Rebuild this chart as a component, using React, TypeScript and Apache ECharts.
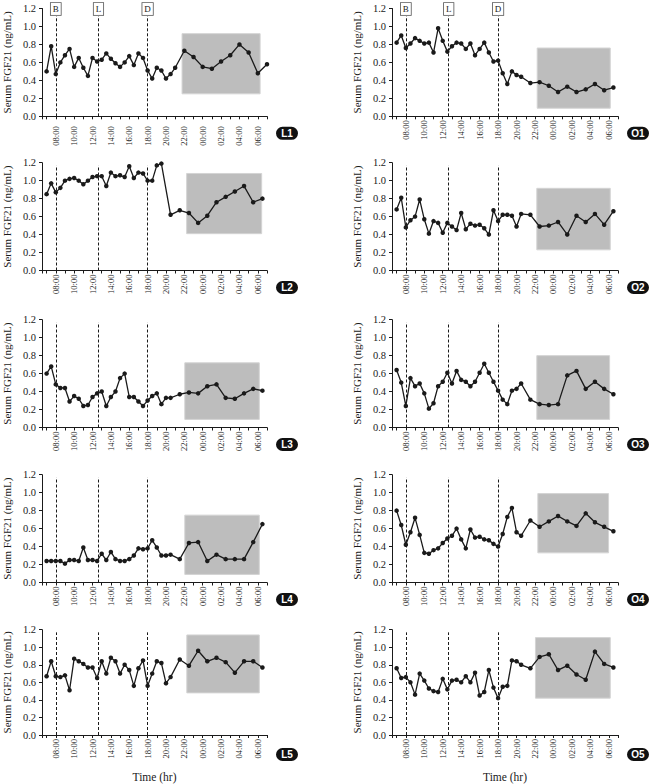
import React, { useEffect, useRef } from "react";
import * as echarts from "echarts";

// ---- time grids (clock times of the samples) ----
const DAY_TIMES = [
  "07:00", "07:30", "08:00", "08:30", "09:00", "09:30", "10:00", "10:30",
  "11:00", "11:30", "12:00", "12:30", "13:00", "13:30", "14:00", "14:30",
  "15:00", "15:30", "16:00", "16:30", "17:00", "17:30", "18:00", "18:30",
  "19:00", "19:30", "20:00", "20:30", "21:00",
];
const NIGHT_ON_HOUR = ["22:00", "23:00", "00:00", "01:00", "02:00", "03:00", "04:00", "05:00", "06:00", "07:00"];
const NIGHT_HALF = ["20:30", "21:30", "22:30", "23:30", "00:30", "01:30", "02:30", "03:30", "04:30", "05:30", "06:30"];

const TIMES_L1 = [...DAY_TIMES, ...NIGHT_ON_HOUR];
const TIMES_L2 = [...DAY_TIMES.slice(0, 26), ...NIGHT_HALF];
const TIMES_STD = [...DAY_TIMES.slice(0, 28), ...NIGHT_HALF.slice(1)];

// ---- serum FGF21 values (ng/mL) ----
const L1_VALUES = [0.50, 0.78, 0.47, 0.60, 0.68, 0.75, 0.55, 0.65, 0.54, 0.45, 0.65, 0.61, 0.63, 0.70, 0.64, 0.59, 0.55, 0.60, 0.67, 0.57, 0.70, 0.65, 0.51, 0.42, 0.54, 0.51, 0.42, 0.47, 0.54, 0.73, 0.66, 0.55, 0.53, 0.61, 0.68, 0.80, 0.71, 0.48, 0.58];
const L2_VALUES = [0.85, 0.97, 0.87, 0.92, 1.00, 1.02, 1.03, 1.00, 0.96, 1.00, 1.04, 1.05, 1.05, 0.94, 1.09, 1.05, 1.06, 1.04, 1.16, 1.03, 1.09, 1.08, 1.00, 1.00, 1.17, 1.19, 0.62, 0.67, 0.64, 0.53, 0.61, 0.76, 0.82, 0.88, 0.94, 0.76, 0.80];
const L3_VALUES = [0.60, 0.68, 0.48, 0.44, 0.44, 0.29, 0.35, 0.32, 0.24, 0.25, 0.34, 0.38, 0.40, 0.24, 0.34, 0.40, 0.55, 0.60, 0.34, 0.34, 0.29, 0.24, 0.30, 0.35, 0.38, 0.26, 0.33, 0.33, 0.37, 0.39, 0.38, 0.46, 0.48, 0.33, 0.32, 0.38, 0.43, 0.41];
const L4_VALUES = [0.24, 0.24, 0.24, 0.24, 0.21, 0.25, 0.25, 0.24, 0.39, 0.25, 0.25, 0.24, 0.32, 0.25, 0.34, 0.26, 0.24, 0.24, 0.26, 0.30, 0.38, 0.37, 0.38, 0.47, 0.39, 0.30, 0.30, 0.31, 0.26, 0.44, 0.45, 0.24, 0.31, 0.26, 0.26, 0.26, 0.45, 0.65];
const L5_VALUES = [0.67, 0.84, 0.67, 0.66, 0.68, 0.51, 0.87, 0.84, 0.81, 0.77, 0.77, 0.65, 0.84, 0.70, 0.88, 0.84, 0.70, 0.80, 0.74, 0.56, 0.76, 0.85, 0.56, 0.70, 0.84, 0.82, 0.59, 0.66, 0.86, 0.79, 0.96, 0.84, 0.88, 0.83, 0.71, 0.84, 0.84, 0.77];
const O1_VALUES = [0.82, 0.90, 0.76, 0.81, 0.87, 0.84, 0.81, 0.82, 0.71, 0.98, 0.84, 0.72, 0.78, 0.82, 0.81, 0.75, 0.81, 0.68, 0.75, 0.82, 0.71, 0.61, 0.62, 0.48, 0.36, 0.50, 0.46, 0.44, 0.37, 0.38, 0.34, 0.27, 0.33, 0.27, 0.30, 0.36, 0.29, 0.32];
const O2_VALUES = [0.68, 0.81, 0.48, 0.56, 0.60, 0.79, 0.57, 0.41, 0.55, 0.53, 0.42, 0.53, 0.49, 0.45, 0.64, 0.46, 0.52, 0.50, 0.51, 0.47, 0.40, 0.67, 0.55, 0.62, 0.62, 0.61, 0.49, 0.63, 0.62, 0.49, 0.50, 0.54, 0.40, 0.61, 0.54, 0.63, 0.51, 0.66];
const O3_VALUES = [0.64, 0.50, 0.24, 0.55, 0.46, 0.49, 0.38, 0.21, 0.27, 0.46, 0.51, 0.61, 0.49, 0.63, 0.53, 0.51, 0.46, 0.51, 0.61, 0.71, 0.61, 0.51, 0.41, 0.31, 0.26, 0.41, 0.43, 0.49, 0.31, 0.26, 0.25, 0.26, 0.58, 0.63, 0.43, 0.51, 0.43, 0.37];
const O4_VALUES = [0.80, 0.64, 0.42, 0.56, 0.72, 0.53, 0.33, 0.32, 0.36, 0.38, 0.44, 0.49, 0.52, 0.60, 0.48, 0.38, 0.59, 0.50, 0.51, 0.48, 0.47, 0.43, 0.40, 0.54, 0.73, 0.83, 0.56, 0.52, 0.69, 0.62, 0.68, 0.74, 0.68, 0.63, 0.77, 0.67, 0.62, 0.57];
const O5_VALUES = [0.76, 0.65, 0.66, 0.60, 0.46, 0.70, 0.62, 0.53, 0.50, 0.49, 0.64, 0.52, 0.62, 0.63, 0.60, 0.67, 0.60, 0.71, 0.45, 0.49, 0.74, 0.54, 0.42, 0.55, 0.56, 0.85, 0.84, 0.80, 0.76, 0.89, 0.92, 0.74, 0.79, 0.69, 0.63, 0.95, 0.81, 0.77];

// ---- shaded night (sleep) windows: axis hours and value range ----
const L1_NIGHT_X = [21.75, 30.25]; const L1_NIGHT_Y = [0.25, 0.92];
const L2_NIGHT_X = [22.25, 30.42]; const L2_NIGHT_Y = [0.41, 1.08];
const L3_NIGHT_X = [22.05, 30.16]; const L3_NIGHT_Y = [0.09, 0.72];
const L4_NIGHT_X = [22.05, 30.16]; const L4_NIGHT_Y = [0.09, 0.75];
const L5_NIGHT_X = [22.27, 30.16]; const L5_NIGHT_Y = [0.48, 1.14];
const O1_NIGHT_X = [22.24, 30.16]; const O1_NIGHT_Y = [0.09, 0.76];
const O2_NIGHT_X = [22.2, 30.16]; const O2_NIGHT_Y = [0.23, 0.915];
const O3_NIGHT_X = [22.2, 30.09]; const O3_NIGHT_Y = [0.09, 0.80];
const O4_NIGHT_X = [22.31, 29.98]; const O4_NIGHT_Y = [0.33, 0.99];
const O5_NIGHT_X = [22.05, 30.16]; const O5_NIGHT_Y = [0.42, 1.11];

// ---- meals ----
const MEAL_HOURS = [8, 12.65, 18];
const MEAL_LABELS = ["B", "L", "D"];

// ---- y ticks ----
const Y_MIN = 0;
const Y_MAX = 1.2;
const Y_STEP = 0.2;

// ---- layout ----
const ROW_TOPS = [8.5, 162.7, 319.7, 474.7, 629.7];
const GRID_H = 107.8;
const COL_LEFT = [41, 392];
const GRID_W = 226;
const BADGE_X = [287, 638];
const SERIF = '"Liberation Serif", "Times New Roman", serif';
const INK = "#1a1a1a";

type Panel = {
  name: string; times: string[]; values: number[];
  nx: number[]; ny: number[]; row: number; col: number;
};

const PANELS: Panel[] = [
  { name: "L1", times: TIMES_L1, values: L1_VALUES, nx: L1_NIGHT_X, ny: L1_NIGHT_Y, row: 0, col: 0 },
  { name: "O1", times: TIMES_STD, values: O1_VALUES, nx: O1_NIGHT_X, ny: O1_NIGHT_Y, row: 0, col: 1 },
  { name: "L2", times: TIMES_L2, values: L2_VALUES, nx: L2_NIGHT_X, ny: L2_NIGHT_Y, row: 1, col: 0 },
  { name: "O2", times: TIMES_STD, values: O2_VALUES, nx: O2_NIGHT_X, ny: O2_NIGHT_Y, row: 1, col: 1 },
  { name: "L3", times: TIMES_STD, values: L3_VALUES, nx: L3_NIGHT_X, ny: L3_NIGHT_Y, row: 2, col: 0 },
  { name: "O3", times: TIMES_STD, values: O3_VALUES, nx: O3_NIGHT_X, ny: O3_NIGHT_Y, row: 2, col: 1 },
  { name: "L4", times: TIMES_STD, values: L4_VALUES, nx: L4_NIGHT_X, ny: L4_NIGHT_Y, row: 3, col: 0 },
  { name: "O4", times: TIMES_STD, values: O4_VALUES, nx: O4_NIGHT_X, ny: O4_NIGHT_Y, row: 3, col: 1 },
  { name: "L5", times: TIMES_STD, values: L5_VALUES, nx: L5_NIGHT_X, ny: L5_NIGHT_Y, row: 4, col: 0 },
  { name: "O5", times: TIMES_STD, values: O5_VALUES, nx: O5_NIGHT_X, ny: O5_NIGHT_Y, row: 4, col: 1 },
];

// convert clock strings to continuous axis hours (next day after midnight)
function toAxisHours(times: string[]): number[] {
  const out: number[] = [];
  let dayOffset = 0;
  let prev = -1;
  times.forEach((t) => {
    const [h, m] = t.split(":").map(Number);
    let v = h + m / 60;
    if (v + dayOffset < prev) dayOffset += 24;
    v += dayOffset;
    out.push(v);
    prev = v;
  });
  return out;
}

function xLabel(v: number): string {
  const h = Math.round(v * 100) / 100;
  if (!Number.isInteger(h) || h % 2 !== 0) return "";
  const hh = h % 24;
  return (hh < 10 ? "0" : "") + hh + ":00";
}

export default function App() {
  const ref = useRef<HTMLDivElement>(null);
  useEffect(() => {
    if (!ref.current) return;
    const chart = echarts.init(ref.current, undefined, { renderer: "svg" });

    const grids = PANELS.map((p) => ({
      left: COL_LEFT[p.col], top: ROW_TOPS[p.row], width: GRID_W, height: GRID_H,
    }));

    const xAxes = PANELS.map((p, i) => ({
      gridIndex: i,
      type: "value",
      min: 6.5,
      max: 31,
      minInterval: 1,
      maxInterval: 1,
      splitNumber: 24,
      splitLine: { show: false },
      axisLine: { show: true, lineStyle: { color: INK, width: 1 } },
      axisTick: { show: true, length: 3, lineStyle: { color: INK, width: 1 } },
      axisLabel: {
        rotate: 90, fontSize: 8.5, fontFamily: SERIF, color: INK,
        margin: i === 0 ? 10 : 4, formatter: xLabel,
      },
      name: p.row === 4 ? "Time (hr)" : "",
      nameLocation: "middle",
      nameGap: 36,
      nameTextStyle: { fontSize: 11.5, fontFamily: SERIF, color: INK },
    }));

    const yAxes = PANELS.map((p, i) => ({
      gridIndex: i,
      type: "value",
      min: Y_MIN,
      max: Y_MAX,
      interval: Y_STEP,
      splitLine: { show: false },
      axisLine: { show: true, lineStyle: { color: INK, width: 1 } },
      axisTick: { show: true, length: 3, lineStyle: { color: INK, width: 1 } },
      axisLabel: {
        fontSize: 10.5, fontFamily: SERIF, color: INK, margin: 6,
        formatter: (v: number) => v.toFixed(1),
      },
      name: "Serum FGF21 (ng/mL)",
      nameLocation: "middle",
      nameRotate: 90,
      nameGap: 30,
      nameTextStyle: { fontSize: 11, fontFamily: SERIF, color: INK },
    }));

    const series = PANELS.map((p, i) => {
      const hrs = toAxisHours(p.times);
      const lineTop = p.row === 0 ? 1.117 : 1.17;
      return {
        type: "line",
        xAxisIndex: i,
        yAxisIndex: i,
        data: p.values.map((v, k) => [hrs[k], v]),
        symbol: "circle",
        symbolSize: 4.5,
        lineStyle: { color: INK, width: 1.3 },
        itemStyle: { color: INK },
        silent: true,
        markArea: {
          silent: true,
          itemStyle: { color: "#bdbdbd", borderColor: "#d4d4d4", borderWidth: 1 },
          data: [[{ coord: [p.nx[0], p.ny[0]] }, { coord: [p.nx[1], p.ny[1]] }]],
        },
        markLine: {
          silent: true,
          symbol: ["none", "none"],
          lineStyle: { type: [3, 2], color: INK, width: 1 },
          label: p.row === 0
            ? {
                show: true, position: "end", formatter: "{b}", distance: 1,
                fontFamily: SERIF, fontSize: 9, color: INK,
                backgroundColor: "#fff", borderColor: "#555", borderWidth: 0.8,
                padding: [2, 2, 1, 2],
              }
            : { show: false },
          emphasis: { disabled: true },
          data: MEAL_HOURS.map((h, k) => [
            { name: MEAL_LABELS[k], coord: [h, 0] },
            { coord: [h, lineTop] },
          ]),
        },
      };
    });

    const graphics: any[] = [];
    PANELS.forEach((p) => {
      const cx = BADGE_X[p.col];
      const cy = ROW_TOPS[p.row] + GRID_H + 17;
      graphics.push({
        type: "rect",
        shape: { x: cx - 11, y: cy - 6.5, width: 22, height: 13, r: 6.5 },
        style: { fill: "#111" },
      });
      graphics.push({
        type: "text",
        x: cx,
        y: cy,
        style: {
          text: p.name, fill: "#fff", fontSize: 10, fontWeight: "bold",
          fontFamily: '"Liberation Sans", Arial, sans-serif',
          align: "center", verticalAlign: "middle",
        },
      });
    });

    chart.setOption({
      animation: false,
      backgroundColor: "#fff",
      textStyle: { fontFamily: SERIF },
      grid: grids,
      xAxis: xAxes,
      yAxis: yAxes,
      series,
      graphic: graphics,
    });
    return () => chart.dispose();
  }, []);
  return (
    <div
      ref={ref}
      style={{ position: "absolute", left: 0, top: 0, width: 652, height: 784 }}
    />
  );
}
